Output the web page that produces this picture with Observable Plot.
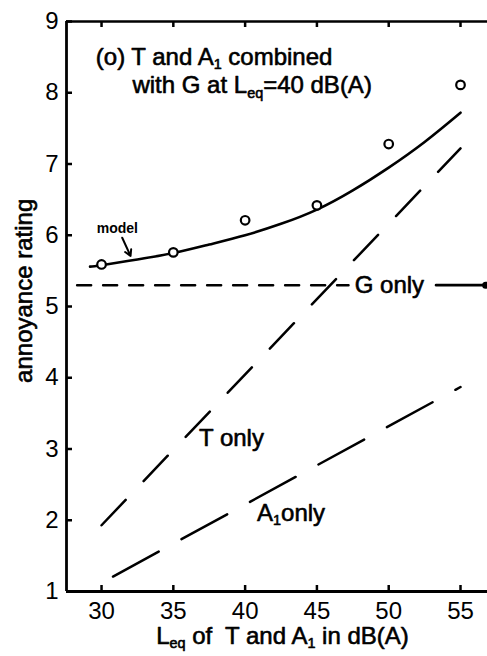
<!DOCTYPE html>
<html>
<head>
<meta charset="utf-8">
<script src="https://cdn.jsdelivr.net/npm/d3@7"></script>
<script src="https://cdn.jsdelivr.net/npm/@observablehq/plot@0.6"></script>
<style>
  html, body { margin: 0; padding: 0; background: #fff; }
  #chart svg { display: block; }
</style>
</head>
<body>
<div id="chart"></div>
<script>
// ---- data ----
const xTicks = [30, 35, 40, 45, 50, 55];
const yTicks = [1, 2, 3, 4, 5, 6, 7, 8, 9];

// measured (circles): T and A1 combined with G at Leq = 40 dB(A)
const measX = [30, 35, 40, 45, 50, 55];
const measY = [5.59, 5.76, 6.21, 6.42, 7.28, 8.11];

// model curve
const modelX = [29.2, 30, 32.5, 35, 37.5, 40, 42.5, 45, 47.5, 50, 52.5, 55];
const modelY = [5.56, 5.58, 5.66, 5.75, 5.87, 6.0, 6.16, 6.36, 6.63, 6.95, 7.31, 7.72];

// T only and A1 only (dashed straight lines)
const tOnlyX = [30, 55];
const tOnlyY = [1.93, 7.22];
const a1OnlyX = [30.8, 55];
const a1OnlyY = [1.21, 3.87];

// G only level
const gLevel = 5.3;
const gDashX = [28.3, 47.2];
const gSolidX = [53.3, 56.75];

// text annotations
const titleLabels = [
  {text: "(o) T and A_{1} combined", x: 29.6, y: 8.50},
  {text: "with G at L_{eq}=40 dB(A)", x: 32.15, y: 8.10}
];
const seriesLabels = [
  {text: "G only", x: 50.05, y: 5.3},
  {text: "T only", x: 39.05, y: 3.15},
  {text: "A_{1}only", x: 43.2, y: 2.1}
];
const modelLabel = [{text: "model", x: 31.1, y: 6.09}];
const modelArrow = [{x1: 31.44, y1: 5.965, x2: 32.02, y2: 5.71}];

const meas = measX.map((x, i) => ({x, y: measY[i]}));
const model = modelX.map((x, i) => ({x, y: modelY[i]}));
const tOnly = tOnlyX.map((x, i) => ({x, y: tOnlyY[i]}));
const a1Only = a1OnlyX.map((x, i) => ({x, y: a1OnlyY[i]}));
const gDash = gDashX.map(x => ({x, y: gLevel}));
const gSolid = gSolidX.map(x => ({x, y: gLevel}));

const W = 487, H = 656;
const mL = 66, mR = 0, mT = 21, mB = 65;
const innerW = W - mL - mR, innerH = H - mT - mB;
const FONT = "Liberation Sans, Arial, sans-serif";
const txt = {fill: "#000", stroke: "#000", strokeWidth: 0.6};

const chart = Plot.plot({
  width: W,
  height: H,
  marginLeft: mL,
  marginRight: mR,
  marginTop: mT,
  marginBottom: mB,
  style: {fontFamily: FONT, background: "#fff", color: "#000", overflow: "visible"},
  x: {domain: [27.56, 56.88], ticks: xTicks},
  y: {domain: [1, 9], ticks: yTicks},
  marks: [
    // frame lines
    Plot.ruleX([27.56], {stroke: "#000", strokeWidth: 2.8}),
    Plot.ruleY([1], {stroke: "#000", strokeWidth: 2.8}),
    Plot.ruleY([9], {stroke: "#000", strokeWidth: 2.6}),
    // inward ticks
    Plot.tickY(yTicks, {y: d => d, stroke: "#000", strokeWidth: 2.5, insetRight: innerW - 6}),
    Plot.tickX(xTicks, {x: d => d, stroke: "#000", strokeWidth: 2.5, insetTop: innerH - 6}),
    Plot.tickX(xTicks, {x: d => d, stroke: "#000", strokeWidth: 2.5, insetBottom: innerH - 6}),
    // axes (labels only)
    Plot.axisX(xTicks, {tickSize: 0, tickPadding: 10, fontSize: 24, tickFormat: d3.format("d"), label: null, ...txt}),
    Plot.axisY(yTicks, {tickSize: 0, tickPadding: 8, fontSize: 24, tickFormat: d3.format("d"), label: null, ...txt}),
    // axis titles
    Plot.text(["L_{eq} of  T and A_{1} in dB(A)"], {text: d => d, x: [42.6], frameAnchor: "bottom", dy: 52, fontSize: 24, textAnchor: "middle", ...txt}),
    Plot.text(["annoyance rating"], {text: d => d, y: [5.22], frameAnchor: "left", dx: -42, rotate: -90, fontSize: 24, textAnchor: "middle", ...txt}),
    // G only
    Plot.line(gDash, {x: "x", y: "y", stroke: "#000", strokeWidth: 2.5, strokeDasharray: "14,12"}),
    Plot.line(gSolid, {x: "x", y: "y", stroke: "#000", strokeWidth: 2.8}),
    Plot.dot([gSolid[1]], {x: "x", y: "y", r: 3.5, fill: "#000"}),
    // T only, A1 only
    Plot.line(tOnly, {x: "x", y: "y", stroke: "#000", strokeWidth: 2.5, strokeDasharray: "35,26"}),
    Plot.line(a1Only, {x: "x", y: "y", stroke: "#000", strokeWidth: 2.5, strokeDasharray: "52,26"}),
    // model curve
    Plot.line(model, {x: "x", y: "y", stroke: "#000", strokeWidth: 2.6, curve: "natural"}),
    Plot.arrow(modelArrow, {x1: "x1", y1: "y1", x2: "x2", y2: "y2", stroke: "#000", strokeWidth: 2, headLength: 6}),
    // measured points
    Plot.dot(meas, {x: "x", y: "y", r: 4.3, stroke: "#000", strokeWidth: 2.2, fill: "#fff"}),
    // labels
    Plot.text(titleLabels, {x: "x", y: "y", text: "text", textAnchor: "start", fontSize: 24, ...txt}),
    Plot.text(seriesLabels, {x: "x", y: "y", text: "text", textAnchor: "middle", fontSize: 24, ...txt}),
    Plot.text(modelLabel, {x: "x", y: "y", text: "text", textAnchor: "middle", fontSize: 14, fontWeight: "bold", fill: "#000"})
  ]
});

// convert "_{..}" markup into subscript tspans
function applySubscripts(svg) {
  svg.querySelectorAll("text").forEach(t => {
    const s = t.textContent;
    if (!s.includes("_{")) return;
    const fs = parseFloat(getComputedStyle(t).fontSize) || 24;
    const parts = s.split(/(_\{[^}]*\})/);
    while (t.firstChild) t.removeChild(t.firstChild);
    const ns = "http://www.w3.org/2000/svg";
    let shifted = false;
    parts.forEach(p => {
      if (!p) return;
      const sp = document.createElementNS(ns, "tspan");
      if (p.startsWith("_{")) {
        sp.textContent = p.slice(2, -1);
        sp.setAttribute("font-size", fs * 0.6);
        sp.setAttribute("dy", fs * 0.18);
        shifted = true;
      } else {
        sp.textContent = p;
        if (shifted) { sp.setAttribute("dy", -fs * 0.18); shifted = false; }
      }
      t.appendChild(sp);
    });
  });
}

document.getElementById("chart").appendChild(chart);
applySubscripts(chart);
</script>
</body>
</html>
